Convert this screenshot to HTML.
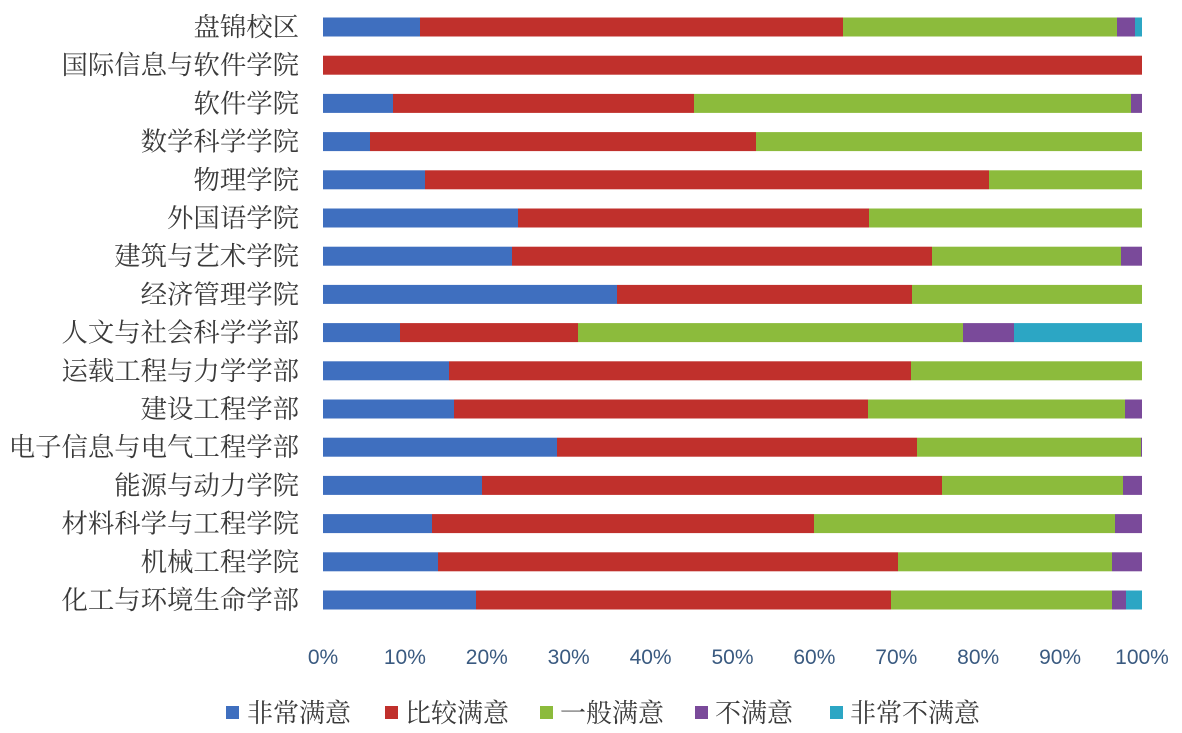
<!DOCTYPE html>
<html><head><meta charset="utf-8"><style>
body{margin:0;background:#fff}
svg{display:block}
text{font-family:"Liberation Serif","Noto Serif CJK SC",serif}
.t text{font-family:"Liberation Sans","Noto Sans CJK SC",sans-serif}
</style></head><body>
<svg width="1182" height="733" xmlns="http://www.w3.org/2000/svg">
<g id="bars"></g>
<g font-size="26.4" fill="#3a3a3a" text-anchor="end" id="labels"></g>
<g font-size="21" fill="#3a5a80" text-anchor="middle" id="ticks" class="t"></g>
<g font-size="26" fill="#3a3a3a">
<rect x="226" y="706" width="13" height="13" fill="#3f6fbf"/><text x="247" y="722">非常满意</text>
<rect x="385" y="706" width="13" height="13" fill="#c0302c"/><text x="405" y="722">比较满意</text>
<rect x="540" y="706" width="13" height="13" fill="#8cbb3c"/><text x="560" y="722">一般满意</text>
<rect x="695" y="706" width="13" height="13" fill="#7a4a9a"/><text x="715" y="722">不满意</text>
<rect x="830" y="706" width="13" height="13" fill="#2ca6c4"/><text x="850" y="722">非常不满意</text>
</g>
<script>
var names=["盘锦校区","国际信息与软件学院","软件学院","数学科学学院","物理学院","外国语学院","建筑与艺术学院","经济管理学院","人文与社会科学学部","运载工程与力学学部","建设工程学部","电子信息与电气工程学部","能源与动力学院","材料科学与工程学院","机械工程学院","化工与环境生命学部"];
var d=[[420,843,1117,1135,1142],[323,1142,1142,1142,1142],[393,694,1131,1142,1142],[370,756,1142,1142,1142],[425,989,1142,1142,1142],[518,869,1142,1142,1142],[512,932,1121,1142,1142],[617,912,1142,1142,1142],[400,578,963,1014,1142],[449,911,1142,1142,1142],[454,868,1125,1142,1142],[557,917,1141,1142,1142],[482,942,1123,1142,1142],[432,814,1115,1142,1142],[438,898,1112,1142,1142],[476,891,1112,1126,1142]];
var cols=["#3f6fbf","#c0302c","#8cbb3c","#7a4a9a","#2ca6c4"];
var ns="http://www.w3.org/2000/svg",b=document.getElementById("bars"),l=document.getElementById("labels"),t=document.getElementById("ticks");
d.forEach(function(r,i){var y=27+i*38.2,x0=323;
 r.forEach(function(x,j){if(x>x0){var e=document.createElementNS(ns,"rect");e.setAttribute("x",x0);e.setAttribute("y",y-9.5);e.setAttribute("width",x-x0);e.setAttribute("height",19);e.setAttribute("fill",cols[j]);b.appendChild(e);}x0=Math.max(x0,x);});
 var tx=document.createElementNS(ns,"text");tx.setAttribute("x",299);tx.setAttribute("y",y+9);tx.textContent=names[i];l.appendChild(tx);});
for(var k=0;k<=10;k++){var tx=document.createElementNS(ns,"text");tx.setAttribute("x",323+k*81.9);tx.setAttribute("y",664);tx.textContent=(k*10)+"%";t.appendChild(tx);}
</script>
</svg>
</body></html>
